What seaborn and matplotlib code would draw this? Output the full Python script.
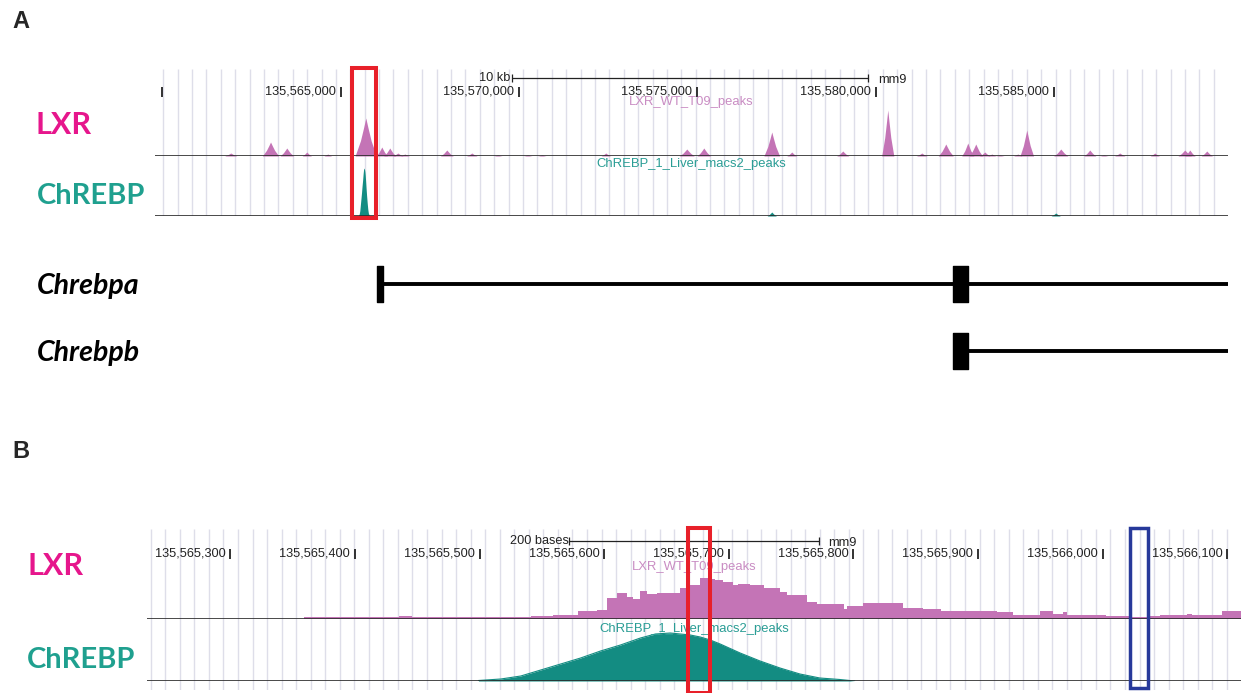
import seaborn as sns
import matplotlib.pyplot as plt
from matplotlib.patches import Rectangle
import numpy as np


sns.set_theme(style="white")
plt.rcParams["font.family"] = ["Liberation Sans", "DejaVu Sans"]

# ---------------- data (mm9 coordinates) ----------------
# panel A: whole locus
a_view = (135559790, 135589880)
a_ticks = [135560000, 135565000, 135570000, 135575000, 135580000, 135585000]
a_tick_labels = ["", "135,565,000", "135,570,000", "135,575,000", "135,580,000", "135,585,000"]
a_scalebar = (135569795, 135579795)
a_highlight = (135565308, 135565981)

# LXR peaks in panel A: centre, height, half width (bp)
lxr_a_center = [135561915, 135563030, 135563486, 135564047, 135564635, 135565701,
                135566150, 135566374, 135566600, 135566795, 135567973, 135568674,
                135569403, 135570244, 135570637, 135572431, 135574703, 135575180,
                135577086, 135577647, 135579077, 135580339, 135581293, 135581966,
                135582583, 135582807, 135583059, 135583256, 135583480, 135583985,
                135584237, 135585191, 135586004, 135586397, 135586845, 135587827,
                135588668, 135588809, 135589285]
lxr_a_height = [3, 14, 8, 4, 2, 38,
                9, 8, 3, 2, 6, 3,
                1, 1, 1, 3, 7, 8,
                24, 4, 5, 46, 3, 12,
                13, 12, 4, 2, 1, 2,
                26, 7, 6, 1, 3, 3,
                6, 6, 5]
lxr_a_halfwidth = [170, 230, 190, 130, 110, 300,
                   160, 170, 150, 130, 180, 150,
                   120, 120, 120, 130, 210, 190,
                   220, 140, 170, 170, 150, 210,
                   170, 190, 150, 120, 120, 120,
                   190, 200, 170, 120, 150, 130,
                   190, 150, 160]

# small ChREBP peaks in panel A (the main one is the panel B profile)
chrebp_a_center = [135577086, 135585050]
chrebp_a_height = [4, 3]
chrebp_a_halfwidth = [130, 130]

# gene models
gene_names = ["Chrebpa", "Chrebpb"]
gene_line_start = [135566010, 135582162]
gene_exons = [[(135566010, 135566180), (135582162, 135582583)],
              [(135582162, 135582583)]]

# panel B: zoom on the ChREBP peak
b_view = (135565233, 135566111)
b_ticks = [135565300, 135565400, 135565500, 135565600, 135565700,
           135565800, 135565900, 135566000, 135566100]
b_tick_labels = ["135,565,300", "135,565,400", "135,565,500", "135,565,600", "135,565,700",
                 "135,565,800", "135,565,900", "135,566,000", "135,566,100"]
b_scalebar = (135565572, 135565772)
b_highlight_red = (135565667, 135565685)
b_highlight_blue = (135566022, 135566036)

# LXR coverage in panel B (step starts and heights)
lxr_b_start = [135565359, 135565420, 135565435, 135565446, 135565468, 135565503,
               135565541, 135565559, 135565579, 135565594, 135565602, 135565610,
               135565618, 135565623, 135565629, 135565634, 135565642, 135565661,
               135565669, 135565677, 135565683, 135565689, 135565695, 135565703,
               135565707, 135565717, 135565728, 135565741, 135565747, 135565763,
               135565771, 135565792, 135565795, 135565808, 135565840, 135565856,
               135565870, 135565915, 135565928, 135565950, 135565960, 135565968,
               135565971, 135566003, 135566022, 135566036, 135566046, 135566068,
               135566072, 135566096]
lxr_b_height = [2, 2, 3, 2, 2, 2,
                3, 4, 8, 9, 21, 26,
                22, 20, 28, 25, 26, 31,
                34, 41, 40, 39, 37, 34,
                35, 34, 31, 27, 24, 17,
                15, 10, 13, 16, 11, 10,
                8, 7, 4, 8, 5, 7,
                4, 3, 2, 3, 4, 5,
                4, 8]

# ChREBP profile in panel B
chrebp_b_pos = [135565499, 135565517, 135565533, 135565549, 135565565, 135565581,
                135565597, 135565613, 135565629, 135565641, 135565653, 135565669,
                135565677, 135565685, 135565693, 135565709, 135565725, 135565741,
                135565757, 135565773, 135565789, 135565801]
chrebp_b_height = [0.5, 2, 5, 11, 17, 23,
                   30, 36, 43, 47, 48, 46,
                   44, 41, 37, 28, 20, 13,
                   7, 3, 1.5, 0]

# ---------------- style ----------------
LXR_LABEL = "#e6168c"
CHREBP_LABEL = "#1fa08f"
LXR_FILL = "#c474b6"
LXR_TITLE = "#c98cc3"
CHREBP_FILL = "#138c82"
CHREBP_TITLE = "#2a9d95"
GRID = "#dedee9"
RED = "#e8202a"
BLUE = "#27399a"
TXT = "#222222"

W, H = 1241, 693
fig = plt.figure(figsize=(W / 100, H / 100), dpi=100)


def add_ax(x0, y0, x1, y1):
    ax = fig.add_axes([x0 / W, 1 - y1 / H, (x1 - x0) / W, (y1 - y0) / H])
    ax.set_facecolor("none")
    ax.set_axis_off()
    return ax


def grid(ax, view, start, step):
    ax.set_xlim(view)
    ax.set_ylim(0, 1)
    ax.vlines(np.arange(start, view[1], step), 0, 1, color=GRID, lw=1)


def ruler(ax, view, height, ticks, labels, bar, bar_label, y_bar, y_tick):
    ax.set_xlim(view)
    ax.set_ylim(height, 0)
    ax.vlines(ticks, y_tick - 5, y_tick + 5, color=TXT, lw=1.3)
    for t, lab in zip(ticks, labels):
        ax.annotate(lab, (t, y_tick), xytext=(-5, 0), textcoords="offset pixels",
                    ha="right", va="center", fontsize=9.2, color=TXT)
    ax.plot(bar, [y_bar, y_bar], color=TXT, lw=0.9)
    ax.vlines(bar, y_bar - 4, y_bar + 4, color=TXT, lw=0.9)
    ax.annotate(bar_label, (bar[0], y_bar), xytext=(-1, 0), textcoords="offset pixels",
                ha="right", va="center", fontsize=9.2, color=TXT)
    ax.annotate("mm9", (bar[1], y_bar), xytext=(10, -2), textcoords="offset pixels",
                ha="left", va="center", fontsize=9.2, color=TXT)


def peaks(ax, centers, heights, widths, color):
    for c, h, w in zip(centers, heights, widths):
        ax.fill_between([c - w, c - w / 2, c - w / 5, c, c + w / 5, c + w / 2, c + w],
                        [0, h * 0.4, h * 0.75, h, h * 0.75, h * 0.4, 0], color=color, lw=0)


def track(ax, view, top, title, title_color, title_y):
    ax.set_xlim(view)
    ax.set_ylim(0, top)
    ax.axhline(0, color="#2a2a2a", lw=1.2)
    ax.text(0.5, title_y, title, transform=ax.transAxes, ha="center",
            va="center", fontsize=9.4, color=title_color)


def box(ax, region, y0, y1, color, lw):
    ax.add_patch(Rectangle((region[0], y0), region[1] - region[0], y1 - y0,
                           transform=ax.get_xaxis_transform(), fill=False,
                           ec=color, lw=lw, clip_on=False))


# ---------------- panel A ----------------
g = add_ax(155, 69, 1228, 216)
grid(g, a_view, 135560020, 403.6)

r = add_ax(155, 69, 1228, 99)
ruler(r, a_view, 30, a_ticks, a_tick_labels, a_scalebar, "10 kb", 9, 23)

t1 = add_ax(155, 99, 1228, 156)
peaks(t1, lxr_a_center, lxr_a_height, lxr_a_halfwidth, LXR_FILL)
track(t1, a_view, 57, "LXR_WT_T09_peaks", LXR_TITLE, 54 / 57)

t2 = add_ax(155, 156, 1228, 216)
t2.fill_between(chrebp_b_pos, chrebp_b_height, color=CHREBP_FILL, lw=0)
peaks(t2, chrebp_a_center, chrebp_a_height, chrebp_a_halfwidth, CHREBP_FILL)
track(t2, a_view, 60, "ChREBP_1_Liver_macs2_peaks", CHREBP_TITLE, 52 / 60)

ov = add_ax(155, 69, 1228, 216)
ov.set_xlim(a_view)
box(ov, a_highlight, -0.013, 1.007, RED, 2.9)

ga = add_ax(155, 250, 1228, 385)
ga.set_xlim(a_view)
ga.set_ylim(1.5, -0.5)
for i, (name, start, exons) in enumerate(zip(gene_names, gene_line_start, gene_exons)):
    ga.hlines(i, start, a_view[1], color="black", lw=2.8)
    ga.broken_barh([(s, e - s) for s, e in exons], (i - 0.27, 0.54), color="black")
    fig.text(37 / W, 1 - (286 + 67 * i) / H, name, fontsize=20.5, fontweight="bold",
             fontstyle="italic", family=["Lato", "DejaVu Sans"], va="center", color="black")

# ---------------- panel B ----------------
gb = add_ax(147, 529, 1241, 690)
grid(gb, b_view, 135565236, 11.67)

rb = add_ax(147, 529, 1241, 560)
ruler(rb, b_view, 31, b_ticks, b_tick_labels, b_scalebar, "200 bases", 12, 25)

b1 = add_ax(147, 560, 1241, 619)
sns.histplot(x=lxr_b_start, weights=lxr_b_height, bins=lxr_b_start + [b_view[1]],
             element="step", fill=True, color=LXR_FILL, alpha=1, linewidth=0, ax=b1)
b1.set_axis_off()
track(b1, b_view, 59, "LXR_WT_T09_peaks", LXR_TITLE, 52 / 59)

b2 = add_ax(147, 619, 1241, 681)
b2.fill_between(chrebp_b_pos, chrebp_b_height, color=CHREBP_FILL, lw=0)
sns.lineplot(x=chrebp_b_pos, y=chrebp_b_height, color=CHREBP_FILL, lw=0.8, ax=b2)
b2.set_axis_off()
track(b2, b_view, 62, "ChREBP_1_Liver_macs2_peaks", CHREBP_TITLE, 52 / 62)

ovb = add_ax(147, 529, 1241, 690)
ovb.set_xlim(b_view)
box(ovb, b_highlight_red, -0.02, 1.006, RED, 2.9)
box(ovb, b_highlight_blue, 0.012, 1.006, BLUE, 2.5)

# ---------------- labels ----------------
fig.text(12 / W, 1 - 22 / H, "A", fontsize=17, fontweight="bold", va="center")
fig.text(12 / W, 1 - 452 / H, "B", fontsize=17, fontweight="bold", va="center")
for x, y, s, c, fs in [(35, 125, "LXR", LXR_LABEL, 22), (37, 196, "ChREBP", CHREBP_LABEL, 21),
                       (28, 566, "LXR", LXR_LABEL, 22), (27, 660, "ChREBP", CHREBP_LABEL, 21)]:
    fig.text(x / W, 1 - y / H, s, fontsize=fs, fontweight="bold", color=c,
             family=["Lato", "DejaVu Sans"], va="center")

plt.savefig("out.png", dpi=100)
plt.close()
